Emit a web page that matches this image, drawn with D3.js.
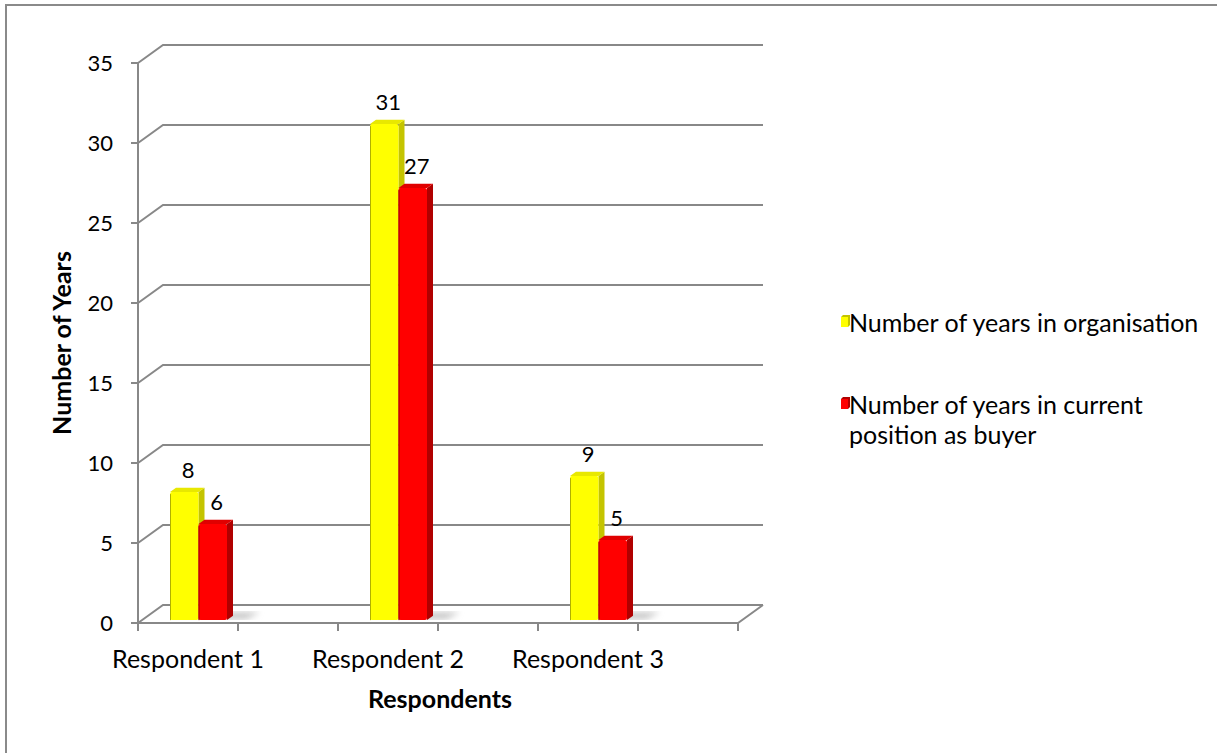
<!doctype html>
<html>
<head>
<script src="https://cdnjs.cloudflare.com/ajax/libs/d3/7.8.5/d3.min.js"></script>
<style>
body { margin:0; background:#fff; }
text { font-family: Lato, "Open Sans", sans-serif; fill:#000; }
</style>
</head>
<body>
<svg id="chart" width="1217" height="753"></svg>
<script>
var categories = ["Respondent 1", "Respondent 2", "Respondent 3"];
var seriesNames = ["Number of years in organisation", "Number of years in current position as buyer"];
var orgYears = [8, 31, 9];
var buyerYears = [6, 27, 5];
var yTicks = [0, 5, 10, 15, 20, 25, 30, 35];

var svg = d3.select("#chart");
var defs = svg.append("defs");
defs.append("filter").attr("id", "blur").append("feGaussianBlur").attr("stdDeviation", 3);

// outer frame (right/bottom edge fall outside the picture)
svg.append("path").attr("d", "M6,760 L6,5 L1230,5")
  .attr("fill", "none").attr("stroke", "#8a8a8a").attr("stroke-width", 2);

// axis has 6 category slots; labels sit on every other one
var x = d3.scaleLinear().domain([0, 6]).range([138, 738]);
var y = d3.scaleLinear().domain([0, 35]).range([623, 63]);
var DX = 25, DY = -18;
function P(u, v, d) { return [u + d * DX, y(v) + d * DY]; }
var grid = "#888888";

// back wall gridlines with diagonal onto left wall
var g = svg.append("g");
g.selectAll("path.grid").data(yTicks).enter().append("path")
  .attr("d", function(v) { return "M" + P(x(0), v, 0) + " L" + P(x(0), v, 1) + " L" + P(x(6), v, 1); })
  .attr("fill", "none").attr("stroke", grid).attr("stroke-width", 2);
// floor
g.append("path")
  .attr("d", "M" + P(x(0), 0, 0) + " L" + P(x(6), 0, 0) + " L" + P(x(6), 0, 1))
  .attr("fill", "none").attr("stroke", grid).attr("stroke-width", 2);
// y axis line and ticks
g.append("line").attr("x1", x(0)).attr("x2", x(0)).attr("y1", y(35)).attr("y2", y(0))
  .attr("stroke", grid).attr("stroke-width", 2);
g.selectAll("line.yt").data(yTicks).enter().append("line")
  .attr("x1", x(0) - 7).attr("x2", x(0)).attr("y1", function(v) { return y(v); }).attr("y2", function(v) { return y(v); })
  .attr("stroke", grid).attr("stroke-width", 2);
g.selectAll("line.xt").data(d3.range(7)).enter().append("line")
  .attr("x1", function(i) { return x(i); }).attr("x2", function(i) { return x(i); })
  .attr("y1", y(0)).attr("y2", y(0) + 8)
  .attr("stroke", grid).attr("stroke-width", 2);

g.selectAll("text.yl").data(yTicks).enter().append("text")
  .attr("x", 113).attr("y", function(v) { return y(v) + 8; })
  .attr("text-anchor", "end").style("font-size", "22px")
  .text(function(v) { return v; });

g.selectAll("text.xl").data(categories).enter().append("text")
  .attr("x", function(c, i) { return (x(2 * i) + x(2 * i + 1)) / 2; }).attr("y", 668)
  .attr("text-anchor", "middle").style("font-size", "25px")
  .text(function(c) { return c; });

svg.append("text").attr("x", 440).attr("y", 708).attr("text-anchor", "middle")
  .style("font-size", "25px").style("font-weight", "bold").text("Respondents");
svg.append("text").attr("transform", "translate(71,343) rotate(-90)").attr("text-anchor", "middle")
  .style("font-size", "25px").style("font-weight", "bold").text("Number of Years");

// bars
var styles = [
  { front: "#ffff00", side: "#c4c400", top: "#e8e800", edge: "#b0b000" },
  { front: "#ff0000", side: "#b00000", top: "#e00000", edge: "#a00000" }
];
var series = [orgYears, buyerYears];
var d0 = 0.16, d1 = 0.40, bw = 28.5;
var bars = svg.append("g");

categories.forEach(function(c, i) {
  var cx = (x(2 * i) + x(2 * i + 1)) / 2;
  // floor shadow
  var su = cx - 22 + 2 * bw;
  bars.append("path")
    .attr("d", "M" + P(su - 30, 0, d0 + 0.05) + " L" + P(su + 18, 0, d0 + 0.05) + " L" + P(su + 22, 0, d1 + 0.2) + " L" + P(su - 30, 0, d1 + 0.2) + "Z")
    .attr("fill", "#8c8c8c").attr("opacity", 0.5).attr("filter", "url(#blur)");
  series.forEach(function(vals, s) {
    var v = vals[i], st = styles[s];
    var u0 = cx - 22 + s * bw, u1 = u0 + bw;
    var side = [P(u1, 0, d0), P(u1, 0, d1), P(u1, v, d1), P(u1, v, d0)];
    var top = [P(u0, v, d0), P(u1, v, d0), P(u1, v, d1), P(u0, v, d1)];
    bars.append("path").attr("d", "M" + side.join("L") + "Z").attr("fill", st.side);
    bars.append("path").attr("d", "M" + top.join("L") + "Z").attr("fill", st.top);
    var a = P(u0, v, d0), b = P(u1, 0, d0);
    bars.append("rect").attr("x", a[0]).attr("y", a[1]).attr("width", b[0] - a[0]).attr("height", b[1] - a[1])
      .attr("rx", 2).attr("fill", st.front);
    bars.append("line").attr("x1", a[0] + 0.5).attr("x2", a[0] + 0.5).attr("y1", a[1] + 2).attr("y2", b[1])
      .attr("stroke", st.edge).attr("stroke-width", 1);
    var t = P((u0 + u1) / 2, v, (d0 + d1) / 2);
    bars.append("text").attr("x", t[0] + 1).attr("y", t[1] - 12).attr("text-anchor", "middle")
      .style("font-size", "22px").text(v);
  });
});

// legend
var legendY = [332, 414];
var leg = svg.append("g");
seriesNames.forEach(function(name, s) {
  var st = styles[s], ly = legendY[s];
  leg.append("path").attr("d", "M841,"+ (ly - 15) + " l2,-2 l7,0 l0,10 l-2,2 Z").attr("fill", st.side);
  leg.append("rect").attr("x", 841).attr("y", ly - 15).attr("width", 7).attr("height", 10).attr("fill", st.front);
  var t = leg.append("text").attr("x", 849).attr("y", ly).style("font-size", "25px");
  if (s === 0) t.text(name);
  else {
    t.append("tspan").attr("x", 849).attr("y", ly).text("Number of years in current");
    t.append("tspan").attr("x", 849).attr("y", ly + 30).text("position as buyer");
  }
});
</script>
</body>
</html>
